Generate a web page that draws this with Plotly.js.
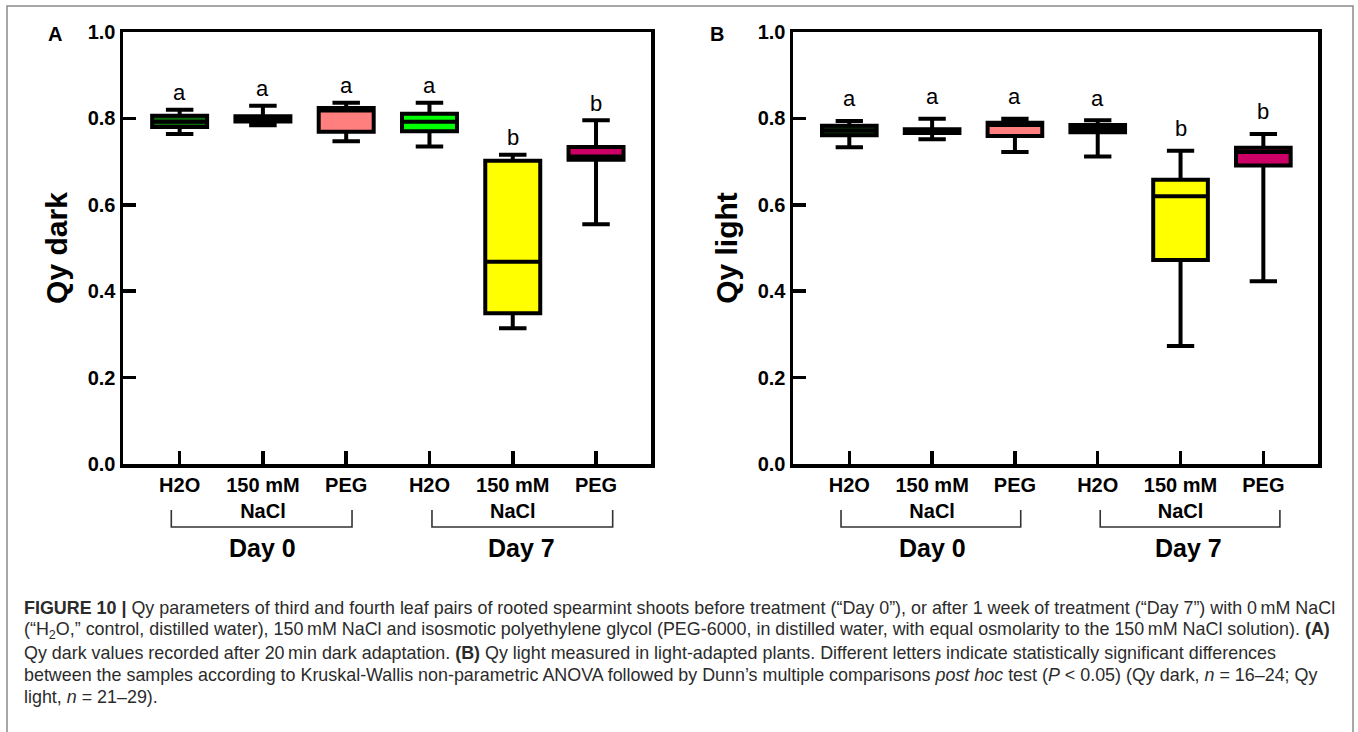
<!DOCTYPE html>
<html><head><meta charset="utf-8">
<script src="https://cdn.plot.ly/plotly-3.0.1.min.js"></script>
<style>html,body{margin:0;padding:0;background:#fff;overflow:hidden;} #chart{width:1358px;height:732px;}</style>
</head><body><div id="chart"></div>
<script>
const W = 1358, H = 732;
const groups = ['H2O', '150 mM<br>NaCl', 'PEG', 'H2O', '150 mM<br>NaCl', 'PEG'];
const positions = [0, 1, 2, 3, 4, 5];
const days = ['Day 0', 'Day 7'];
const fillColorsA = ['#0b6e0b', '#111111', '#ff7f7f', '#00ff00', '#ffff00', '#cc0066'];
const fillColorsB = ['#0b3d0b', '#111111', '#ff7f7f', '#111111', '#ffff00', '#cc0066'];

// Panel A: Qy dark
const darkLow  = [0.764, 0.784, 0.747, 0.735, 0.314, 0.555];
const darkQ1   = [0.780, 0.793, 0.769, 0.770, 0.349, 0.704];
const darkMed  = [0.792, 0.800, 0.818, 0.792, 0.468, 0.712];
const darkQ3   = [0.806, 0.805, 0.824, 0.811, 0.702, 0.734];
const darkHigh = [0.820, 0.829, 0.836, 0.836, 0.716, 0.796];
const darkLetters = ['a', 'a', 'a', 'a', 'b', 'b'];

// Panel B: Qy light
const lightLow  = [0.733, 0.752, 0.722, 0.712, 0.273, 0.423];
const lightQ1   = [0.761, 0.766, 0.759, 0.768, 0.472, 0.691];
const lightMed  = [0.772, 0.771, 0.785, 0.776, 0.620, 0.722];
const lightQ3   = [0.783, 0.775, 0.790, 0.785, 0.658, 0.732];
const lightHigh = [0.794, 0.799, 0.799, 0.796, 0.725, 0.764];
const lightLetters = ['a', 'a', 'a', 'a', 'b', 'b'];

const FONT = 'Liberation Sans, Arial, Helvetica, sans-serif';

function boxTraces(xa, ya, low, q1, med, q3, high, colors) {
  return positions.map((p, i) => ({
    type: 'box', x: [p], q1: [q1[i]], median: [med[i]], q3: [q3[i]],
    lowerfence: [low[i]], upperfence: [high[i]],
    xaxis: xa, yaxis: ya, fillcolor: colors[i],
    line: {color: '#000', width: 4}, whiskerwidth: 0.5, width: 0.66,
    boxpoints: false, hoverinfo: 'skip', showlegend: false
  }));
}

const data = [].concat(
  boxTraces('x', 'y', darkLow, darkQ1, darkMed, darkQ3, darkHigh, fillColorsA),
  boxTraces('x2', 'y2', lightLow, lightQ1, lightMed, lightQ3, lightHigh, fillColorsB)
);

const tickFont = {family: FONT, size: 20, color: '#000', weight: 'bold'};
const axCommon = {showline: true, linecolor: '#000', linewidth: 3.5, mirror: true,
  ticks: 'inside', ticklen: 13, tickwidth: 3.5, tickcolor: '#000',
  showgrid: false, zeroline: false, fixedrange: true, tickfont: tickFont};
const yDomain = [1 - 464 / H, 1 - 32 / H];
const xRange = [-0.68, 5.66];

function px(x) { return x / W; }
function py(y) { return 1 - y / H; }

const layout = {
  width: W, height: H, margin: {l: 0, r: 0, t: 0, b: 0},
  paper_bgcolor: '#fff', plot_bgcolor: 'rgba(0,0,0,0)', showlegend: false,
  font: {family: FONT, color: '#000'},
  xaxis: Object.assign({}, axCommon, {domain: [px(123), px(651)], range: xRange,
    tickvals: positions, ticktext: groups, anchor: 'y'}),
  yaxis: Object.assign({}, axCommon, {domain: yDomain, range: [0, 1],
    tickvals: [0, 0.2, 0.4, 0.6, 0.8, 1.0], tickformat: '.1f', anchor: 'x',
    title: {text: 'Qy dark', font: {family: FONT, size: 30, weight: 'bold', color: '#000'}, standoff: 12}}),
  xaxis2: Object.assign({}, axCommon, {domain: [px(793), px(1318)], range: xRange,
    tickvals: positions, ticktext: groups, anchor: 'y2'}),
  yaxis2: Object.assign({}, axCommon, {domain: yDomain, range: [0, 1],
    tickvals: [0, 0.2, 0.4, 0.6, 0.8, 1.0], tickformat: '.1f', anchor: 'x2',
    title: {text: 'Qy light', font: {family: FONT, size: 30, weight: 'bold', color: '#000'}, standoff: 12}}),
  shapes: [],
  annotations: []
};

// frame around figure
layout.shapes.push({type: 'rect', xref: 'paper', yref: 'paper', x0: px(7), x1: px(1353), y0: -0.2, y1: py(6),
  line: {color: '#8a8a8a', width: 1.5}, fillcolor: 'rgba(0,0,0,0)', layer: 'below'});

// group brackets and day labels
const brackets = [[-0.1, 2.07], [3.03, 5.2]];
const dayX = [1.0, 4.1];
['x', 'x2'].forEach(xa => {
  brackets.forEach((b, k) => {
    layout.shapes.push({type: 'path', xref: xa, yref: 'paper',
      path: `M ${b[0]},${py(510)} L ${b[0]},${py(527)} L ${b[1]},${py(527)} L ${b[1]},${py(510)}`,
      line: {color: '#333', width: 1.6}});
    layout.annotations.push({xref: xa, yref: 'paper', x: dayX[k], y: py(548), text: days[k],
      showarrow: false, xanchor: 'center', yanchor: 'middle',
      font: {family: FONT, size: 25, weight: 'bold', color: '#000'}});
  });
});

// significance letters
function letters(xa, ya, high, lets, shift) {
  positions.forEach((p, i) => {
    layout.annotations.push({xref: xa, yref: ya, x: p, y: high[i], yshift: shift, text: lets[i],
      showarrow: false, xanchor: 'center', yanchor: 'middle',
      font: {family: FONT, size: 22, color: '#000'}});
  });
}
letters('x', 'y', darkHigh, darkLetters, 17);
letters('x2', 'y2', lightHigh, lightLetters, 22);

// panel labels
[['A', 55], ['B', 717]].forEach(([t, x]) => {
  layout.annotations.push({xref: 'paper', yref: 'paper', x: px(x), y: py(34), text: t, showarrow: false,
    xanchor: 'center', yanchor: 'middle', font: {family: FONT, size: 20, weight: 'bold', color: '#000'}});
});

// caption
const caption = [
  '<b>FIGURE 10 |</b> Qy parameters of third and fourth leaf pairs of rooted spearmint shoots before treatment (\u201cDay 0\u201d), or after 1 week of treatment (\u201cDay 7\u201d) with 0\u2009mM NaCl',
  '(\u201cH<sub>2</sub>O,\u201d control, distilled water), 150\u2009mM NaCl and isosmotic polyethylene glycol (PEG-6000, in distilled water, with equal osmolarity to the 150\u2009mM NaCl solution). <b>(A)</b>',
  'Qy dark values recorded after 20\u2009min dark adaptation. <b>(B)</b> Qy light measured in light-adapted plants. Different letters indicate statistically significant differences',
  'between the samples according to Kruskal-Wallis non-parametric ANOVA followed by Dunn\u2019s multiple comparisons <i>post hoc</i> test (<i>P</i> &lt; 0.05) (Qy dark, <i>n</i> = 16\u201324; Qy',
  'light, <i>n</i> = 21\u201329).'
];
caption.forEach((t, i) => {
  layout.annotations.push({xref: 'paper', yref: 'paper', x: px(22), y: py(608 + i * 22.3), text: t,
    showarrow: false, xanchor: 'left', yanchor: 'middle', align: 'left',
    font: {family: FONT, size: 17.9, color: '#2b2b2b'}});
});

Plotly.newPlot('chart', data, layout, {staticPlot: true, displayModeBar: false});
</script>
</body></html>
